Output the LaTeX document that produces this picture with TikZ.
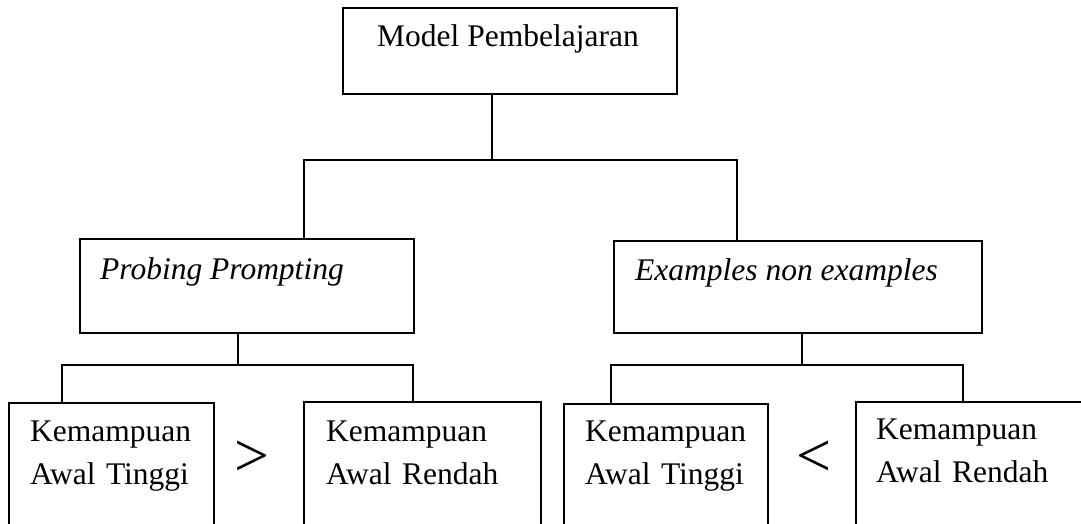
\documentclass[tikz,border=0pt]{standalone}
\usepackage{fontspec}
\setmainfont{Liberation Serif}

\begin{document}
\begin{tikzpicture}[x=1pt,y=-1pt,every node/.style={font=\fontsize{31.5}{43}\selectfont}]
\tikzstyle{box}=[draw,line width=1.6pt,inner sep=0pt,anchor=north west]
\tikzstyle{txt}=[anchor=base west,inner sep=0pt]
\tikzstyle{txttwo}=[txt,align=left,text width=220pt]
\tikzstyle{link}=[line width=1.6pt]
\tikzstyle{rel}=[inner sep=0pt,font=\fontsize{62}{62}\selectfont]
\clip (0,0) rectangle (1081,524);
\fill[white] (0,0) rectangle (1081,524);
% boxes
\node[box,minimum width=334pt,minimum height=86pt] (model) at (342,7) {};
\node[box,minimum width=334pt,minimum height=94pt] (pp) at (79,238) {};
\node[box,minimum width=368pt,minimum height=92pt] (en) at (613,240) {};
\node[box,minimum width=205pt,minimum height=160pt] (ppA) at (8,402) {};
\node[box,minimum width=237pt,minimum height=160pt] (ppB) at (303,401) {};
\node[box,minimum width=204pt,minimum height=160pt] (enA) at (563,403) {};
\node[box,minimum width=300pt,minimum height=160pt] (enB) at (855,401) {};
% texts
\node[txt] (modeltxt) at ([shift={(35pt,-40pt)}]model.north west) {Model Pembelajaran};
\node[txt] (pptxt) at ([shift={(21pt,-41pt)}]pp.north west) {\itshape Probing Prompting};
\node[txt] (entxt) at ([shift={(22pt,-40pt)}]en.north west) {\itshape Examples non examples};
\node[txttwo] (ppAtxt) at ([shift={(22pt,-39pt)}]ppA.north west) {Kemampuan\\Awal Tinggi};
\node[txttwo] (ppBtxt) at ([shift={(23pt,-40pt)}]ppB.north west) {Kemampuan\\Awal Rendah};
\node[txttwo] (enAtxt) at ([shift={(22pt,-38pt)}]enA.north west) {Kemampuan\\Awal Tinggi};
\node[txttwo] (enBtxt) at ([shift={(21pt,-38pt)}]enB.north west) {Kemampuan\\Awal Rendah};
\node[rel] (gt) at (252,459) {>};
\node[rel] (lt) at (814,459) {<};
% junctions
\coordinate (mj) at (492,160);
\coordinate (barL) at (304,160);
\coordinate (barR) at (737,160);
\coordinate (ppj) at (238,365);
\coordinate (ppL) at (62,365);
\coordinate (ppR) at (413,365);
\coordinate (enj) at (802,365);
\coordinate (enL) at (611,365);
\coordinate (enR) at (963,365);
% connectors
\draw[link] (model.south -| mj) -- (mj);
\draw[link] (pp.north -| barL) |- (barR) -- (en.north -| barR);
\draw[link] (pp.south -| ppj) -- (ppj);
\draw[link] (ppA.north -| ppL) |- (ppR) -- (ppB.north -| ppR);
\draw[link] (en.south -| enj) -- (enj);
\draw[link] (enA.north -| enL) |- (enR) -- (enB.north -| enR);
\end{tikzpicture}
\end{document}
